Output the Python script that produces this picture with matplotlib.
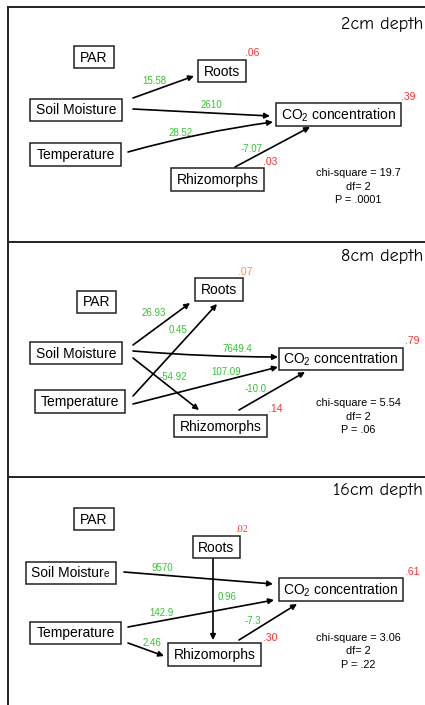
import matplotlib.pyplot as plt
from matplotlib.patches import Rectangle

plt.rcParams['font.family'] = ['Liberation Sans', 'DejaVu Sans']
plt.rcParams['mathtext.default'] = 'regular'

# path diagram results, one entry per soil depth
depths = ['2cm depth', '8cm depth', '16cm depth']
r2_roots = ['.06', '.07', '.02']
r2_co2 = ['.39', '.79', '.61']
r2_rhizo = ['.03', '.14', '.30']
chi_square = ['19.7', '5.54', '3.06']
dof = [2, 2, 2]
p_values = ['.0001', '.06', '.22']

# (from, to, path coefficient)
paths_2cm = [('SM', 'Roots', '15.58'), ('SM', 'CO2', '2610'),
             ('Temp', 'CO2', '28.52'), ('Rhizo', 'CO2', '-7.07')]
paths_8cm = [('SM', 'Roots', '26.93'), ('Temp', 'Roots', '0.45'),
             ('SM', 'CO2', '7649.4'), ('SM', 'Rhizo', '-54.92'),
             ('Temp', 'CO2', '107.09'), ('Rhizo', 'CO2', '-10.0')]
paths_16cm = [('SM', 'CO2', '9570'), ('Roots', 'Rhizo', '0.96'),
              ('Temp', 'CO2', '142.9'), ('Temp', 'Rhizo', '2.46'),
              ('Rhizo', 'CO2', '-7.3')]
all_paths = [paths_2cm, paths_8cm, paths_16cm]

node_text = {'PAR': 'PAR', 'Roots': 'Roots', 'SM': 'Soil Moisture',
             'Temp': 'Temperature', 'CO2': 'CO$_2$ concentration',
             'Rhizo': 'Rhizomorphs'}

# ---- layout (pixel positions on a 425x705 canvas) ----
boxes = [
    {'PAR': (74, 46, 114, 68), 'Roots': (198, 60, 246, 82), 'SM': (30, 99, 122, 121),
     'Temp': (30, 143, 121, 166), 'CO2': (276, 103, 401, 126), 'Rhizo': (171, 168, 264, 191)},
    {'PAR': (77, 291, 116, 313), 'Roots': (195, 278, 243, 301), 'SM': (30, 342, 122, 364),
     'Temp': (35, 390, 125, 413), 'CO2': (279, 348, 403, 370), 'Rhizo': (174, 415, 267, 437)},
    {'PAR': (74, 508, 114, 530), 'Roots': (193, 536, 240, 558), 'SM': (26, 562, 116, 584),
     'Temp': (30, 622, 121, 644), 'CO2': (279, 578, 403, 601), 'Rhizo': (168, 643, 261, 666)},
]
# arrow start, end, label position, curvature
arrows = [
    [((133, 98), (194, 76), (154, 81), 0), ((133, 109), (270, 116), (211, 105), 0),
     ((128, 152), (273, 122), (181, 133), -0.035), ((235, 167), (310, 127), (252, 149), 0)],
    [((133, 345), (190, 303), (154, 313), 0), ((133, 396), (217, 304), (178, 330), 0),
     ((133, 351), (278, 357), (237, 349), 0.02), ((133, 358), (199, 410), (173, 377), 0),
     ((133, 404), (278, 367), (226, 372), 0), ((239, 410), (305, 372), (256, 389), 0)],
    [((124, 572), (273, 584), (162, 568), 0), ((213, 559), (213, 640), (227, 597), 0),
     ((128, 627), (274, 600), (161, 613), 0), ((128, 643), (164, 656), (152, 643), 0),
     ((239, 640), (297, 604), (253, 621), 0)],
]
r2_pos = [[(252, 53), (408, 97), (270, 162)],
          [(245, 272), (412, 341), (275, 409)],
          [(242, 529), (412, 572), (270, 638)]]
title_pos = [(423, 24), (423, 256), (423, 491)]
chi_pos = [(358, 173), (358, 403), (358, 638)]
r2_colors = [['#ff3030', '#ff3030', '#ff3030'],
             ['#ff9040', '#ff3030', '#ff3030'],
             ['#ff3030', '#ff3030', '#ff3030']]
green = '#33c433'

fig = plt.figure(figsize=(4.25, 7.05), dpi=100)
ax = fig.add_axes([0, 0, 1, 1])
ax.set_xlim(0, 425)
ax.set_ylim(705, 0)
ax.axis('off')

# frame and separators
ax.plot([8, 8], [7, 705], color='#222222', lw=1.4)
for yy in [7, 242, 477]:
    ax.plot([8, 425], [yy, yy], color='#222222', lw=1.4)

for i in range(3):
    ax.text(*title_pos[i], depths[i], fontsize=13, ha='right', va='center',
            family=['Comic Neue', 'DejaVu Sans'])
    for key, (x0, y0, x1, y1) in boxes[i].items():
        ax.add_patch(Rectangle((x0, y0), x1 - x0, y1 - y0, fill=False,
                               ec='#222222', lw=1.1))
        if i == 2 and key == 'SM':
            t = ax.text(x0 + 5, (y0 + y1) / 2, 'Soil Moistur', fontsize=10,
                        ha='left', va='center')
            ax.annotate('e', xy=(1, 0.08), xycoords=t, fontsize=7,
                        ha='left', va='bottom')
        else:
            ax.text((x0 + x1) / 2, (y0 + y1) / 2 + 0.5, node_text[key],
                    fontsize=10, ha='center', va='center')

    for (src, dst, coef), (p0, p1, lp, rad) in zip(all_paths[i], arrows[i]):
        ax.annotate('', xy=p1, xytext=p0,
                    arrowprops=dict(arrowstyle='-|>', color='black', lw=1.2,
                                    mutation_scale=8, shrinkA=0, shrinkB=0,
                                    connectionstyle='arc3,rad=%s' % rad))
        ax.text(*lp, coef, color=green, fontsize=7, ha='center', va='center')

    for val, pos, col in zip([r2_roots[i], r2_co2[i], r2_rhizo[i]], r2_pos[i], r2_colors[i]):
        fam = ['Liberation Serif'] if (i == 2 and val == r2_roots[i]) else ['Liberation Sans']
        ax.text(*pos, val, color=col, fontsize=7.5, ha='center', va='center', family=fam)

    cx, cy = chi_pos[i]
    ax.text(cx, cy, 'chi-square = ' + chi_square[i], fontsize=7.8, ha='center', va='center')
    ax.text(cx, cy + 13.5, 'df= %d' % dof[i], fontsize=7.8, ha='center', va='center')
    ax.text(cx, cy + 27, 'P = ' + p_values[i], fontsize=7.8, ha='center', va='center')

fig.savefig('out.png', dpi=100)
